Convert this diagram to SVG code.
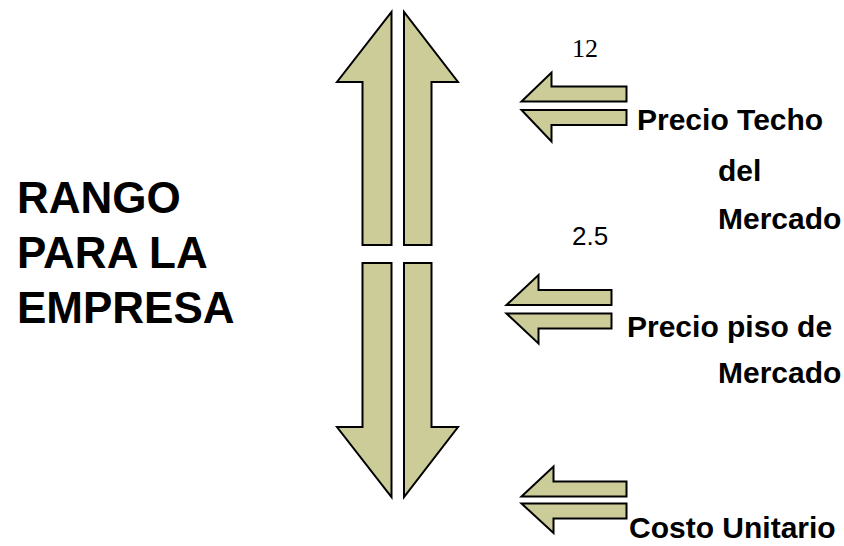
<svg xmlns="http://www.w3.org/2000/svg" width="844" height="546" viewBox="0 0 844 546">
<style>
.a{fill:#CCCC99;stroke:#000;stroke-width:2;stroke-linejoin:miter}
.lbl{font-family:"Liberation Sans",Arial,sans-serif;font-weight:bold;font-size:30px;fill:#000}
.big{font-family:"Liberation Sans",Arial,sans-serif;font-weight:bold;font-size:44px;fill:#000}
.num{font-family:"Liberation Serif","Times New Roman",serif;font-size:26px;fill:#000}
.num2{font-family:"Liberation Sans",Arial,sans-serif;font-size:26px;fill:#000}
</style>
<rect width="844" height="546" fill="#fff"/>
<g id="title">
<text class="big" x="17" y="213">RANGO</text>
<text class="big" x="17" y="268">PARA LA</text>
<text class="big" x="17" y="323">EMPRESA</text>
</g>
<g id="range-arrows">
<polygon class="a" points="391.5,12 391.5,245 362.5,245 362.5,82 337,82"/>
<polygon class="a" points="404,12 404,245 431.5,245 431.5,82 458,82"/>
<polygon class="a" points="391.5,497 391.5,263 362.5,263 362.5,427 337,427"/>
<polygon class="a" points="404,497 404,263 431.5,263 431.5,427 458,427"/>
</g>
<g id="techo">
<polygon class="a" points="521.5,101.5 551.5,72.5 551.5,86.5 626.5,86.5 626.5,101.5"/>
<polygon class="a" points="521.5,110 626.5,110 626.5,125 551.5,125 551.5,141.5"/>
<text class="num" x="572" y="57">12</text>
<text class="lbl" x="637" y="130">Precio Techo</text>
<text class="lbl" x="718" y="181">del</text>
<text class="lbl" x="718" y="229">Mercado</text>
</g>
<g id="piso">
<polygon class="a" points="506.5,305 538.5,275 538.5,290 611.5,290 611.5,305"/>
<polygon class="a" points="506.5,313.5 611.5,313.5 611.5,328.5 538.5,328.5 538.5,343.5"/>
<text class="num2" x="572" y="245">2.5</text>
<text class="lbl" x="627" y="337">Precio piso de</text>
<text class="lbl" x="718" y="383">Mercado</text>
</g>
<g id="costo">
<polygon class="a" points="521.5,496.5 553.5,466.5 553.5,481.5 626.5,481.5 626.5,496.5"/>
<polygon class="a" points="521.5,503.5 626.5,503.5 626.5,518.5 553.5,518.5 553.5,533"/>
<text class="lbl" x="629" y="538">Costo Unitario</text>
</g>
<g id="connectors"></g>
</svg>
